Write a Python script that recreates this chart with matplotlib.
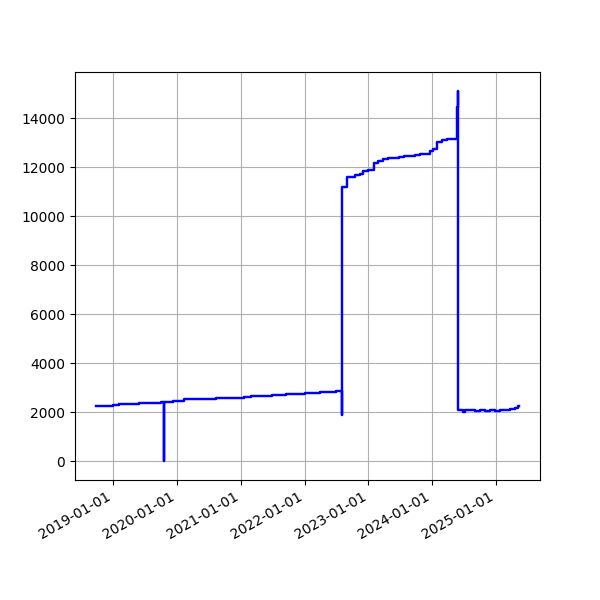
import matplotlib
matplotlib.use("Agg")
import matplotlib.pyplot as plt
import matplotlib.dates as mdates
import pandas as pd

dates = [
    "2018-09-26", "2018-11-01", "2019-01-01", "2019-02-04", "2019-03-01", "2019-04-01",
    "2019-05-01", "2019-06-01", "2019-07-01", "2019-08-01", "2019-09-01", "2019-10-01",
    "2019-10-19", "2019-10-20", "2019-12-08", "2020-02-12", "2020-03-15", "2020-04-15",
    "2020-05-15", "2020-06-15", "2020-07-15", "2020-08-15", "2020-09-15", "2020-10-15",
    "2020-11-15", "2020-12-15", "2021-01-21", "2021-03-01", "2021-04-01", "2021-05-01",
    "2021-06-01", "2021-07-01", "2021-08-01", "2021-09-17", "2021-11-01", "2022-01-01",
    "2022-02-01", "2022-03-01", "2022-04-01", "2022-05-01", "2022-06-01", "2022-07-01",
    "2022-08-02",
    "2022-08-03", "2022-09-01", "2022-09-20", "2022-10-19", "2022-11-16", "2022-12-03",
    "2022-12-28", "2023-01-31", "2023-02-27", "2023-03-28", "2023-04-25", "2023-05-25",
    "2023-06-25", "2023-07-25", "2023-08-25", "2023-09-25", "2023-10-25", "2023-11-25",
    "2023-12-21", "2024-01-05", "2024-01-28", "2024-02-26", "2024-03-25", "2024-05-21",
    "2024-05-28", "2024-05-30", "2024-06-28", "2024-07-08", "2024-08-05", "2024-09-03",
    "2024-10-01", "2024-10-30", "2024-11-27", "2024-12-26", "2025-01-23", "2025-02-11",
    "2025-03-03", "2025-03-21", "2025-04-19", "2025-05-08", "2025-05-12",
]
values = [
    2270, 2280, 2290, 2330, 2340, 2350,
    2360, 2370, 2385, 2395, 2405, 2415,
    0, 2420, 2478, 2530, 2540, 2545,
    2550, 2555, 2565, 2570, 2580, 2590,
    2600, 2610, 2650, 2660, 2670, 2680,
    2690, 2700, 2710, 2760, 2770, 2790,
    2800, 2810, 2820, 2830, 2845, 2860,
    1878,
    11200, 11604, 11630, 11700, 11750, 11840,
    11880, 12180, 12260, 12350, 12370, 12390,
    12420, 12450, 12480, 12510, 12540, 12570,
    12690, 12760, 13030, 13130, 13170, 14460,
    15140, 2080, 2010, 2080, 2100, 2050,
    2100, 2040, 2100, 2040, 2080, 2120,
    2080, 2150, 2190, 2260, 2260,
]

x = pd.to_datetime(dates)

fig, ax = plt.subplots(figsize=(6, 6), dpi=100)
ax.plot(x, values, color="blue", linewidth=1.75, drawstyle="steps-post")
ax.grid(True)
ax.xaxis.set_major_locator(mdates.YearLocator())
ax.xaxis.set_major_formatter(mdates.DateFormatter("%Y-%m-%d"))
fig.autofmt_xdate()
fig.savefig("out.png", dpi=100)
